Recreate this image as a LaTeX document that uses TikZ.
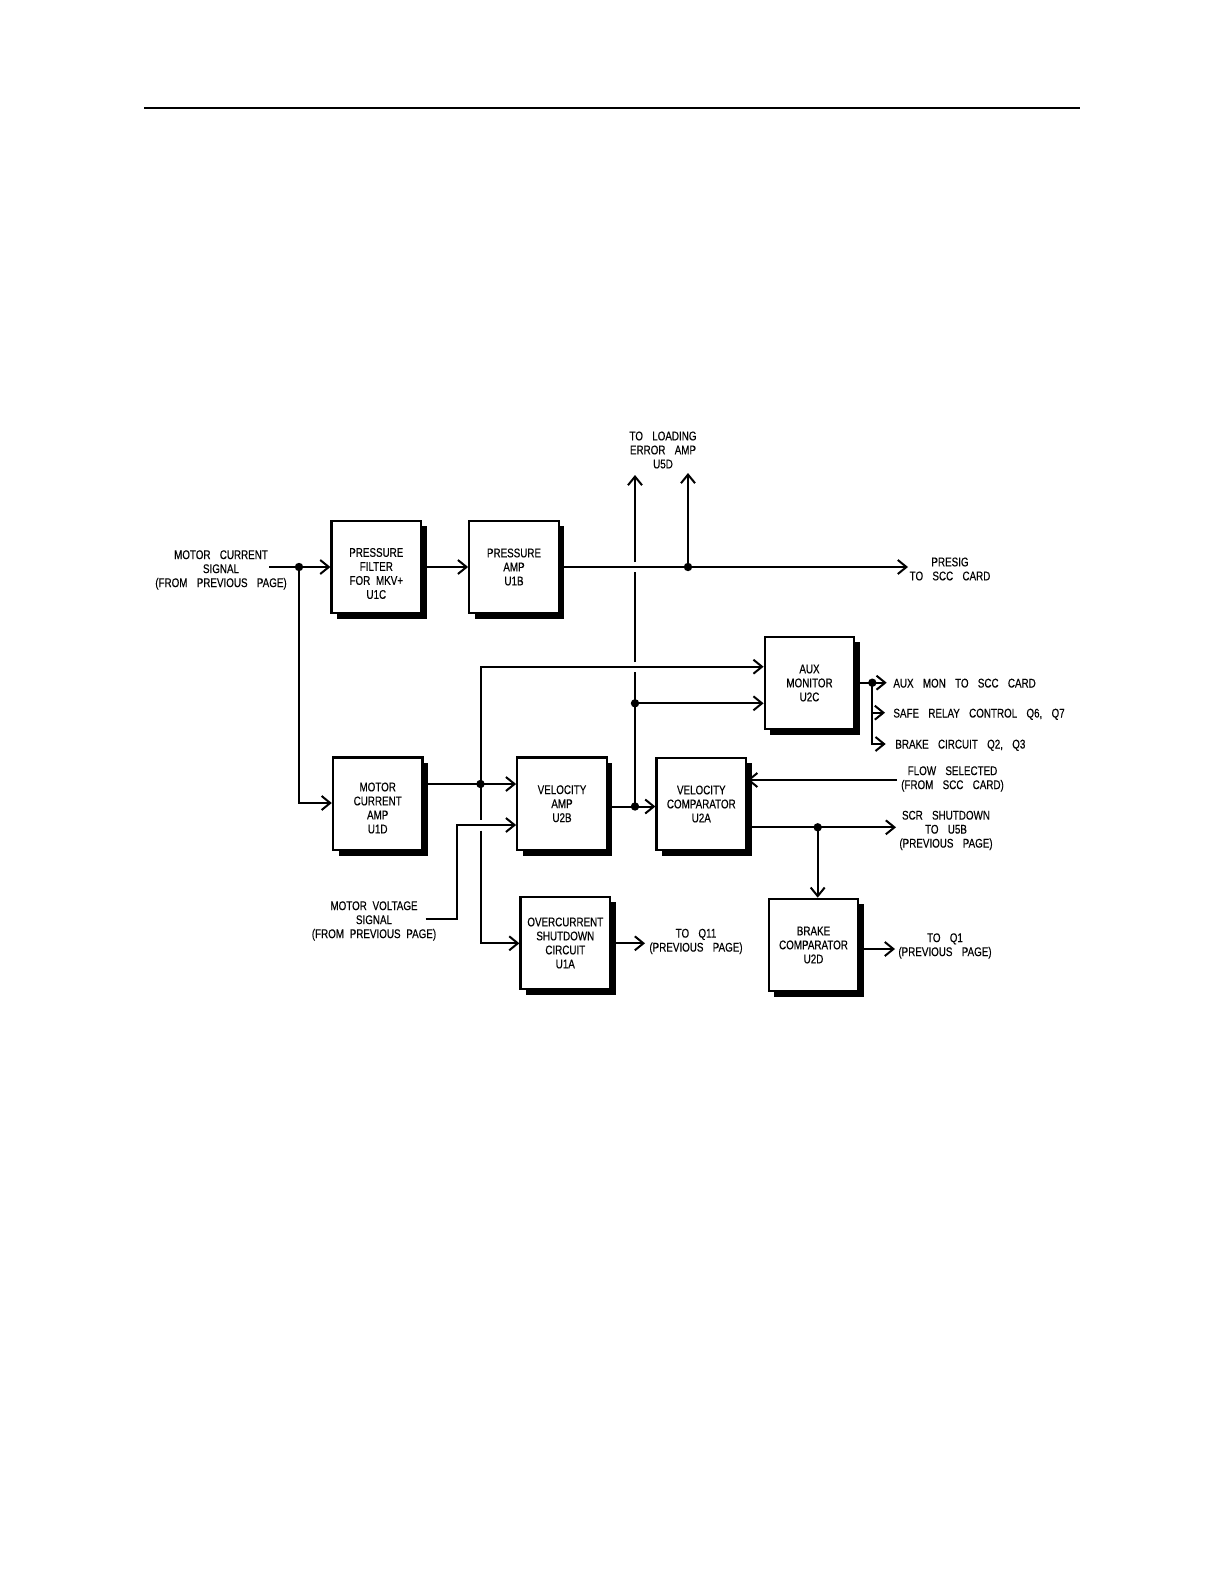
\documentclass[tikz,border=0pt]{standalone}
\usepackage{fontspec}
\setmainfont{Liberation Sans}[FakeStretch=0.78,WordSpace=2.1,FakeBold=0.35]
\newfontfamily\lblfont{Liberation Sans}[FakeStretch=0.78,WordSpace=3.4,FakeBold=0.35]
\usetikzlibrary{arrows.meta,shadows}
\begin{document}
\begin{tikzpicture}[x=0.5pt,y=-0.5pt,
  blk/.style={draw, line width=1.1pt, fill=white, minimum width=44.8pt, minimum height=46.2pt,
    inner sep=0pt, align=center, font=\fontsize{6.3}{7}\selectfont,
    drop shadow={shadow xshift=2.8pt, shadow yshift=-2.8pt, fill=black, opacity=1}},
  btxt/.style={inner sep=0pt, align=center, font=\fontsize{6.3}{7}\selectfont},
  lbl/.style={inner sep=0pt, align=center, font=\lblfont\fontsize{6.3}{7}\selectfont},
  mvl/.style={inner sep=0pt, align=center, font=\fontsize{6.3}{7}\selectfont},
  wire/.style={line width=1pt},
  arr/.style={wire, -{Straight Barb[length=4.3pt,width=7pt]}},
  dot/.style={circle, fill, inner sep=0pt, minimum size=4.2pt},
]
\useasboundingbox (0,0) rectangle (1224,1584);

% header rule
\coordinate (r1) at (144,108);
\coordinate (r2) at (1080,108);
\draw[line width=0.8pt] (r1) -- (r2);

% blocks
\node[blk] (pf)  at (376.3,567) {};
\node[btxt] (pft) at (376.3,573.5) {PRESSURE\\FILTER\\FOR MKV+\\U1C};
\node[blk] (pa)  at (514,567) {PRESSURE\\AMP\\U1B};
\node[blk] (mca) at (377.7,803.7) {};
\node[btxt] (mcat) at (377.7,808) {MOTOR\\CURRENT\\AMP\\U1D};
\node[blk] (va)  at (562,803.7) {VELOCITY\\AMP\\U2B};
\node[blk] (vc)  at (701.3,804) {VELOCITY\\COMPARATOR\\U2A};
\node[blk] (aux) at (809.5,683) {AUX\\MONITOR\\U2C};
\node[blk] (oc)  at (565.3,943) {OVERCURRENT\\SHUTDOWN\\CIRCUIT\\U1A};
\node[blk] (bc)  at (813.5,945) {BRAKE\\COMPARATOR\\U2D};

% labels
\node[lbl] (mcs) at (221,570) {MOTOR CURRENT\\SIGNAL\\(FROM PREVIOUS PAGE)};
\node[lbl] (tle) at (663,450) {TO LOADING\\ERROR AMP\\U5D};
\node[lbl] (presig) at (950,569) {PRESIG\\TO SCC CARD};
\node[lbl, anchor=base west] (auxl) at (893,687.5) {AUX MON TO SCC CARD};
\node[lbl, anchor=base west] (safel) at (893,717.5) {SAFE RELAY CONTROL Q6, Q7};
\node[lbl, anchor=base west] (brkl) at (895,748.5) {BRAKE CIRCUIT Q2, Q3};
\node[lbl] (flow) at (952.5,779) {FLOW SELECTED\\(FROM SCC CARD)};
\node[lbl] (scr) at (946,830.5) {SCR SHUTDOWN\\TO U5B\\(PREVIOUS PAGE)};
\node[lbl] (q1) at (945,946) {TO Q1\\(PREVIOUS PAGE)};
\node[lbl] (q11) at (696,941.5) {TO Q11\\(PREVIOUS PAGE)};
\node[mvl] (mvs) at (374,921) {MOTOR VOLTAGE\\SIGNAL\\(FROM PREVIOUS PAGE)};

% coordinates
\coordinate (mcsin) at (269,567);
\coordinate (j1) at (299,567);
\coordinate (j2) at (688,567);
\coordinate (up2) at (688,473);
\coordinate (presigend) at (908,567);
\coordinate (c803) at (299,803);
\coordinate (j3) at (480.5,784);
\coordinate (c667) at (480.5,666.7);
\coordinate (v3a) at (480.5,820);
\coordinate (v3b) at (480.5,830.5);
\coordinate (c943) at (480.5,943.3);
\coordinate (mvout) at (425.5,919);
\coordinate (c919) at (456.5,919);
\coordinate (c825) at (456.5,825);
\coordinate (j5) at (635,806.5);
\coordinate (j4) at (635,703.3);
\coordinate (v1a) at (635,672);
\coordinate (v1b) at (635,662);
\coordinate (v2a) at (635,572);
\coordinate (v2b) at (635,562);
\coordinate (up1) at (635,475);
\coordinate (flowin) at (897,780);
\coordinate (j6) at (817.7,827.3);
\coordinate (scrend) at (896,827.3);
\coordinate (q1end) at (895,949);
\coordinate (q11end) at (645,943.3);
\coordinate (j7) at (872.3,682.7);
\coordinate (auxend) at (886.7,682.7);
\coordinate (c713) at (872.3,712.7);
\coordinate (safeend) at (885,712.7);
\coordinate (c744) at (872.3,744);
\coordinate (brkend) at (885.7,744);

% wires
\draw[arr] (mcsin) -- (pf.west);
\draw[arr] (pf.east) -- (pa.west);
\draw[arr] (pa.east) -- (presigend);
\draw[arr] (j2) -- (up2);
\draw[arr] (j1) -- (c803) -- (mca.west |- c803);
\draw[wire] (mca.east |- j3) -- (j3);
\draw[arr] (j3) -- (va.west |- j3);
\draw[arr] (j3) -- (c667) -- (aux.west |- c667);
\draw[wire] (j3) -- (v3a);
\draw[arr] (v3b) -- (c943) -- (oc.west |- c943);
\draw[arr] (mvout) -- (c919) -- (c825) -- (va.west |- c825);
\draw[wire] (va.east |- j5) -- (j5);
\draw[arr] (j5) -- (vc.west |- j5);
\draw[wire] (j5) -- (v1a);
\draw[wire] (v1b) -- (v2a);
\draw[arr] (v2b) -- (up1);
\draw[arr] (j4) -- (aux.west |- j4);
\draw[arr] (flowin) -- (vc.east |- flowin);
\draw[wire] (vc.east |- j6) -- (j6);
\draw[arr] (j6) -- (scrend);
\draw[arr] (j6) -- (j6 |- bc.north);
\draw[arr] (bc.east |- q1end) -- (q1end);
\draw[arr] (oc.east |- q11end) -- (q11end);
\draw[wire] (aux.east |- j7) -- (j7);
\draw[arr] (j7) -- (auxend);
\draw[arr] (j7) -- (c744) -- (brkend);
\draw[arr] (c713) -- (safeend);

% junction dots
\node[dot] (d1) at (j1) {};
\node[dot] (d2) at (j2) {};
\node[dot] (d3) at (j3) {};
\node[dot] (d4) at (j4) {};
\node[dot] (d5) at (j5) {};
\node[dot] (d6) at (j6) {};
\node[dot] (d7) at (j7) {};
\end{tikzpicture}
\end{document}
